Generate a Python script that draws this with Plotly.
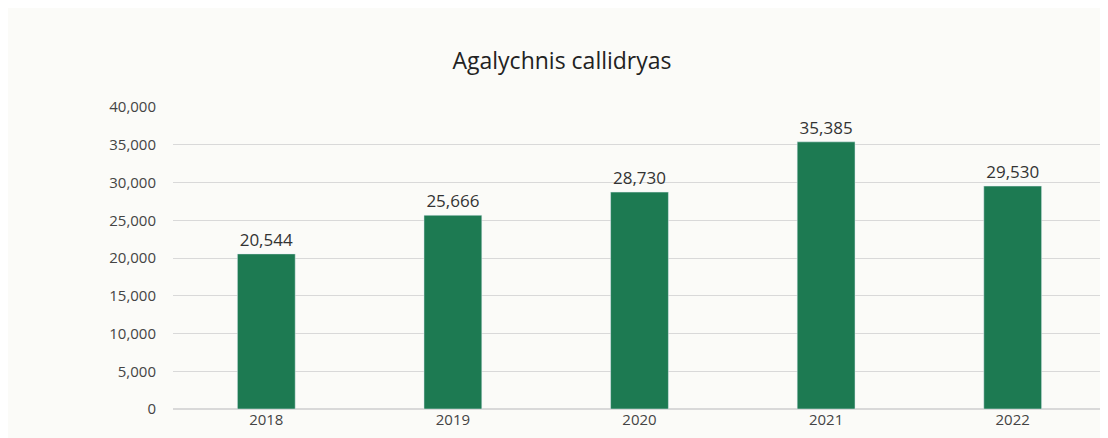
import plotly.graph_objects as go

years = ["2018", "2019", "2020", "2021", "2022"]
values = [20544, 25666, 28730, 35385, 29530]
labels = ["20,544", "25,666", "28,730", "35,385", "29,530"]

fig = go.Figure()
fig.add_trace(go.Bar(
    x=years, y=values, text=labels, textposition="outside",
    marker=dict(color="#1d7a52"),
    textfont=dict(size=17, color="#333333", family="Open Sans"),
    cliponaxis=False,
))
fig.update_layout(
    width=1108, height=438,
    paper_bgcolor="#fbfbf8", plot_bgcolor="#fbfbf8",
    margin=dict(l=165, r=10, t=99, b=37),
    bargap=0.69,
    title=dict(text="Agalychnis callidryas", x=0.5, xanchor="center", y=0.88, yanchor="middle",
               font=dict(size=23, color="#222222", family="Open Sans")),
    font=dict(family="Open Sans", color="#444444"),
    showlegend=False,
)
fig.update_yaxes(range=[0, 40000], tickvals=[0, 5000, 10000, 15000, 20000, 25000, 30000, 35000, 40000],
                 tickformat=",", showgrid=True, gridcolor="#d9d9d9", zeroline=True, zerolinecolor="#d9d9d9",
                 tickfont=dict(size=15, color="#444444"), ticklabelstandoff=16)
fig.update_xaxes(tickfont=dict(size=15, color="#444444"), showline=False)
fig.write_html("out.html")
